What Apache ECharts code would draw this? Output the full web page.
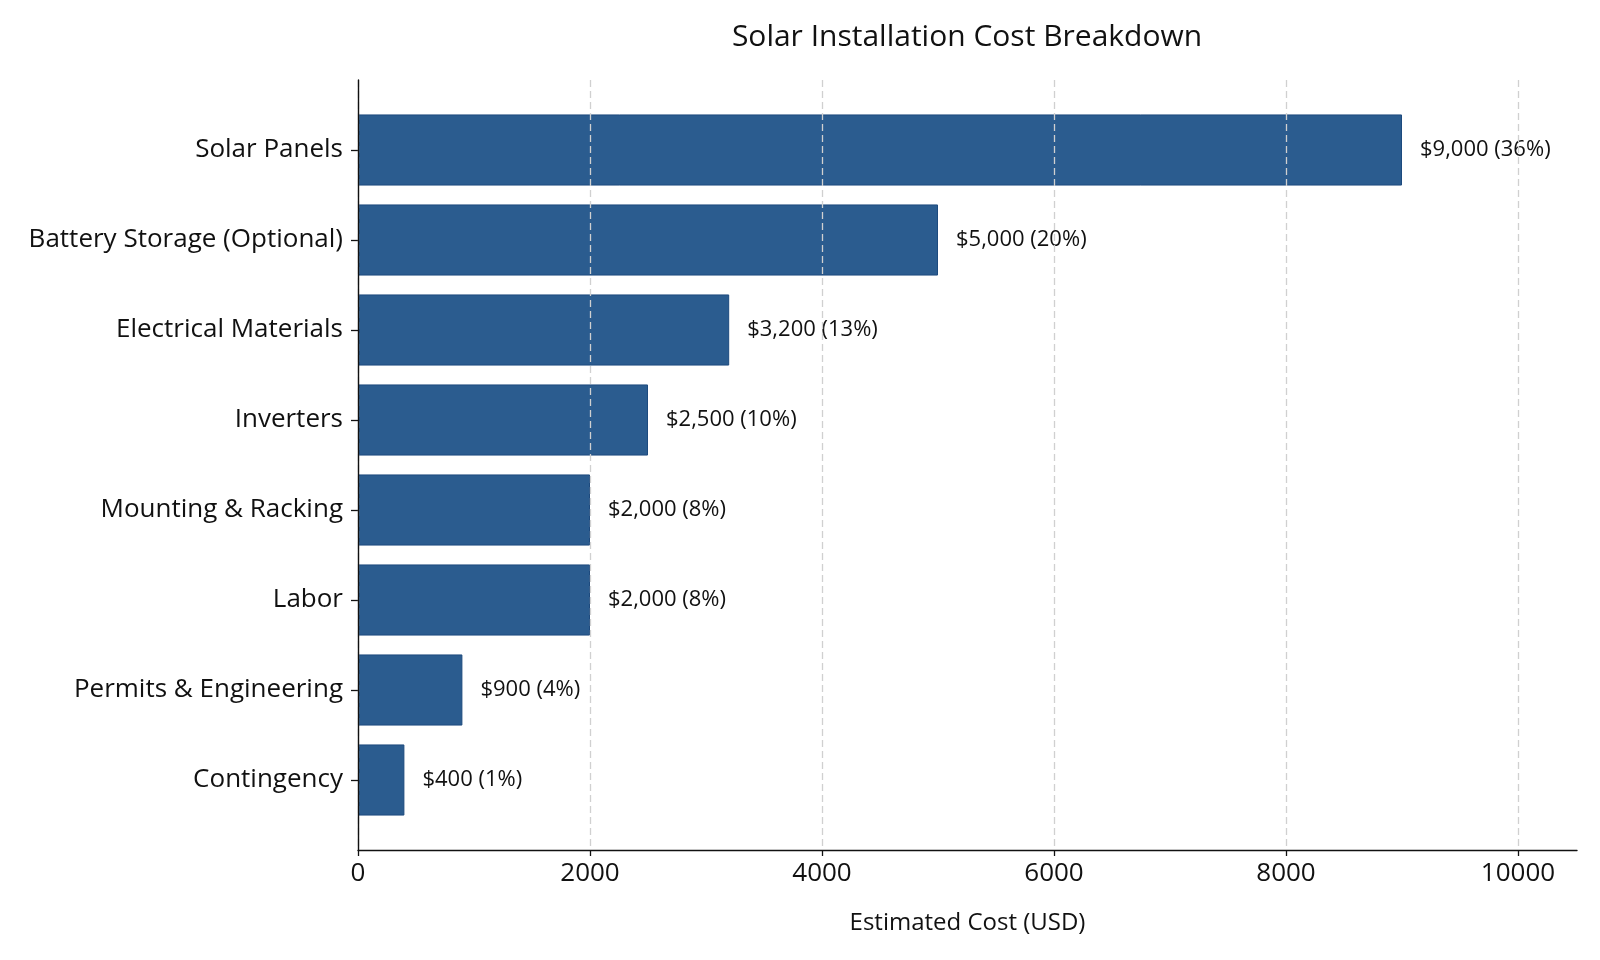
<!DOCTYPE html>
<html><head><meta charset="utf-8">
<script src="https://cdn.jsdelivr.net/npm/echarts@6/dist/echarts.min.js"></script>
<style>html,body{margin:0;padding:0;background:#fff}#c{width:1600px;height:960px}</style>
</head><body><div id="c"></div>
<script>
const categories = ['Solar Panels','Battery Storage (Optional)','Electrical Materials','Inverters','Mounting & Racking','Labor','Permits & Engineering','Contingency'];
const costs = [9000,5000,3200,2500,2000,2000,900,400];
const shares = [36,20,13,10,8,8,4,1];
const xTicks = [0,2000,4000,6000,8000,10000];

const FONT = 'Open Sans';
const chart = echarts.init(document.getElementById('c'));
chart.setOption({
  backgroundColor:'#fff',
  animation:false,
  textStyle:{fontFamily:FONT},
  title:{text:'Solar Installation Cost Breakdown',left:962,textAlign:'center',top:17,
    textStyle:{fontFamily:FONT,fontSize:30,fontWeight:'normal',color:'#111'}},
  grid:[
    {left:358,width:1160,top:80,height:770},
    {left:358,width:1219,top:80,height:770},
    {left:358,width:1160,top:105,height:720}
  ],
  xAxis:[
    {gridIndex:0,type:'value',min:xTicks[0],max:xTicks[xTicks.length-1],interval:2000,z:5,
     axisLine:{show:false},
     axisTick:{show:true,length:6,lineStyle:{color:'#111',width:1.3}},
     axisLabel:{fontSize:26,color:'#111',margin:11,fontFamily:FONT,formatter:v=>String(v)},
     splitLine:{show:true,lineStyle:{type:[7,4],color:'#d0d0d0',width:1.3}}},
    {gridIndex:1,type:'value',min:0,max:10500,z:6,
     axisLine:{show:true,lineStyle:{color:'#111',width:1.4}},
     axisTick:{show:false},axisLabel:{show:false},splitLine:{show:false},
     name:'Estimated Cost (USD)',nameLocation:'middle',nameGap:61,
     nameTextStyle:{fontSize:24,color:'#111',fontFamily:FONT}},
    {gridIndex:2,type:'value',min:0,max:10000,show:false,splitLine:{show:false}}
  ],
  yAxis:[
    {gridIndex:0,type:'value',min:0,max:1,z:6,axisLine:{show:true,lineStyle:{color:'#111',width:1.4}},
     axisTick:{show:false},axisLabel:{show:false},splitLine:{show:false}},
    {gridIndex:1,type:'value',min:0,max:1,show:false},
    {gridIndex:2,type:'category',data:categories,inverse:true,
     axisLine:{show:false},
     axisTick:{show:true,alignWithLabel:true,length:7,lineStyle:{color:'#111',width:1.3}},
     axisLabel:{fontSize:26,color:'#111',margin:15,fontFamily:FONT}}
  ],
  series:[{
    type:'bar',xAxisIndex:2,yAxisIndex:2,data:costs,barWidth:'79%',
    itemStyle:{color:'#2b5c8f',borderColor:'#1d4a7e',borderWidth:1},
    label:{show:true,position:'right',distance:18,fontSize:22,color:'#111',fontFamily:FONT,
      formatter:p=>'$'+costs[p.dataIndex].toLocaleString('en-US')+' ('+shares[p.dataIndex]+'%)'}
  }]
});
</script></body></html>
